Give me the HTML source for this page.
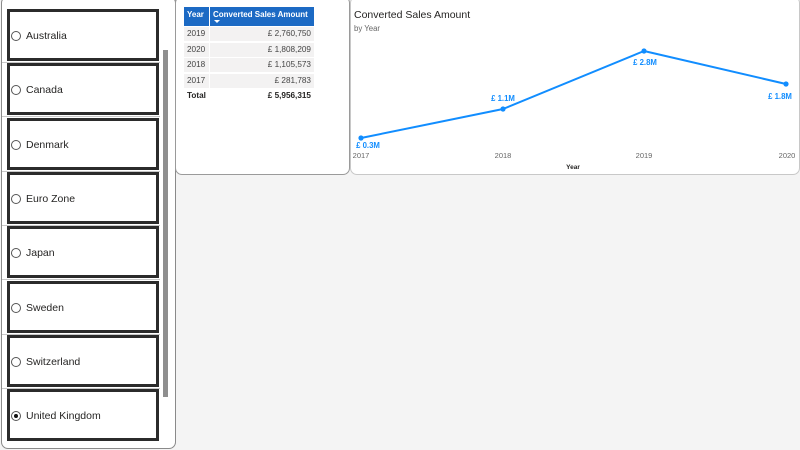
<!DOCTYPE html>
<html><head><meta charset="utf-8">
<style>
*{margin:0;padding:0;box-sizing:border-box}
body{width:800px;height:450px;background:#f4f4f4;position:relative;overflow:hidden;font-family:"Liberation Sans",Arial,sans-serif}
.abs{position:absolute}
.lp{left:1px;top:-4px;width:175px;height:453px;background:#fff;border:1px solid #8a8a8a;border-radius:7px}
.box{position:absolute;left:7px;width:152px;height:52px;border:3px solid #2b2b2b;background:#fff}
.sep{position:absolute;left:2px;width:158px;height:1px;background:#c8c8c8}
.rad{position:absolute;left:1px;top:19px;width:10px;height:10px;border:1px solid #555;border-radius:50%;background:#fff}
.rad.on::after{content:"";position:absolute;left:2px;top:2px;width:4px;height:4px;border-radius:50%;background:#111}
.lbl{position:absolute;left:16px;top:18px;font-size:10.5px;color:#252423}
.sb{left:163px;top:50px;width:5px;height:347px;background:#8f8f8f}
.tp{left:175px;top:-4px;width:175px;height:179px;background:#fff;border:1px solid #9a9a9a;border-radius:7px}
.cp{left:350px;top:-4px;width:450px;height:179px;background:#fff;border:1px solid #c8c8c8;border-radius:7px}
.th{position:absolute;top:7px;height:19px;background:#1c6ac4;color:#fff;font-weight:bold;font-size:8px;padding:3px 3px}
.td{position:absolute;height:14px;background:#f3f2f2;font-size:8.2px;color:#444;line-height:14px}
</style></head><body>
<div class="abs lp"></div>
<div class="sep" style="top:62px"></div>
<div class="sep" style="top:116px"></div>
<div class="sep" style="top:171px"></div>
<div class="sep" style="top:225px"></div>
<div class="sep" style="top:279px"></div>
<div class="sep" style="top:334px"></div>
<div class="sep" style="top:388px"></div>

<div class="box" style="top:9px"><div class="rad"></div><div class="lbl">Australia</div></div>
<div class="box" style="top:63px"><div class="rad"></div><div class="lbl">Canada</div></div>
<div class="box" style="top:118px"><div class="rad"></div><div class="lbl">Denmark</div></div>
<div class="box" style="top:172px"><div class="rad"></div><div class="lbl">Euro Zone</div></div>
<div class="box" style="top:226px"><div class="rad"></div><div class="lbl">Japan</div></div>
<div class="box" style="top:281px"><div class="rad"></div><div class="lbl">Sweden</div></div>
<div class="box" style="top:335px"><div class="rad"></div><div class="lbl">Switzerland</div></div>
<div class="box" style="top:389px"><div class="rad on"></div><div class="lbl">United Kingdom</div></div>
<div class="abs sb"></div>

<div class="abs tp"></div>
<div class="th" style="left:184px;width:25px">Year</div>
<div class="th" style="left:210px;width:104px">Converted Sales Amount<div style="position:absolute;left:4px;top:13px;width:0;height:0;border-left:3px solid transparent;border-right:3px solid transparent;border-top:3px solid #fff"></div></div>

<div class="td" style="left:184px;top:27px;width:25px;padding-left:3px">2019</div>
<div class="td" style="left:210px;top:27px;width:104px;text-align:right;padding-right:3px">£ 2,760,750</div>
<div class="td" style="left:184px;top:42.5px;width:25px;padding-left:3px">2020</div>
<div class="td" style="left:210px;top:42.5px;width:104px;text-align:right;padding-right:3px">£ 1,808,209</div>
<div class="td" style="left:184px;top:58px;width:25px;padding-left:3px">2018</div>
<div class="td" style="left:210px;top:58px;width:104px;text-align:right;padding-right:3px">£ 1,105,573</div>
<div class="td" style="left:184px;top:73.5px;width:25px;padding-left:3px">2017</div>
<div class="td" style="left:210px;top:73.5px;width:104px;text-align:right;padding-right:3px">£ 281,783</div>
<div class="td" style="left:184px;top:89px;width:40px;padding-left:3px;background:none;font-weight:bold;color:#252423">Total</div>
<div class="td" style="left:210px;top:89px;width:104px;text-align:right;padding-right:3px;background:none;font-weight:bold;color:#252423">£ 5,956,315</div>

<div class="abs cp"></div>
<svg class="abs" style="left:0;top:0" width="800" height="450" viewBox="0 0 800 450">
<text x="354" y="18" font-family="Liberation Sans, Arial, sans-serif" font-size="10.5" fill="#252423">Converted Sales Amount</text>
<text x="354" y="31" font-family="Liberation Sans, Arial, sans-serif" font-size="7.8" fill="#666">by Year</text>
<polyline points="361,138 503,109 644,51 786,84" fill="none" stroke="#118dff" stroke-width="2" stroke-linejoin="round"/>
<circle cx="361" cy="138" r="2.6" fill="#118dff"/>
<circle cx="503" cy="109" r="2.6" fill="#118dff"/>
<circle cx="644" cy="51" r="2.6" fill="#118dff"/>
<circle cx="786" cy="84" r="2.6" fill="#118dff"/>
<g font-family="Liberation Sans, Arial, sans-serif" font-size="7.8" font-weight="bold" fill="#118dff" text-anchor="middle">
<text x="368" y="148">£ 0.3M</text>
<text x="503" y="101">£ 1.1M</text>
<text x="645" y="65">£ 2.8M</text>
<text x="780" y="99">£ 1.8M</text>
</g>
<g font-family="Liberation Sans, Arial, sans-serif" font-size="7.5" fill="#666" text-anchor="middle">
<text x="361" y="158">2017</text>
<text x="503" y="158">2018</text>
<text x="644" y="158">2019</text>
<text x="787" y="158">2020</text>
</g>
<text x="573" y="169" font-family="Liberation Sans, Arial, sans-serif" font-size="6.5" font-weight="bold" fill="#252423" text-anchor="middle">Year</text>
</svg>
</body></html>
